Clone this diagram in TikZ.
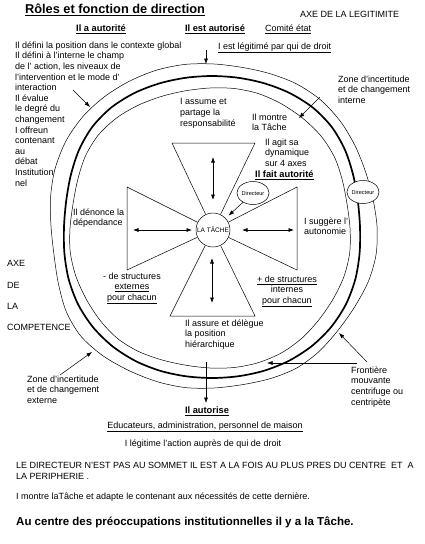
\documentclass[tikz,border=0pt]{standalone}
\usepackage{fontspec}
\setmainfont{Liberation Sans}
\usetikzlibrary{arrows.meta, shapes.geometric}

\begin{document}
\begin{tikzpicture}[x=1pt, y=-1pt,
  txt/.style={font=\fontsize{9}{10.6}\selectfont, align=left, inner sep=0pt, anchor=north west},
  ctxt/.style={font=\fontsize{9}{10.6}\selectfont, align=center, inner sep=0pt, anchor=north},
  line/.style={font=\fontsize{9}{10}\selectfont, inner sep=0pt},
  head/.style={font=\bfseries\fontsize{9.3}{11}\selectfont, inner sep=0pt},
  tachenode/.style={circle, draw, fill=white, line width=0.5pt, inner sep=0pt,
    minimum size=34pt, font=\fontsize{6.5}{7}\selectfont},
  dirnode/.style={ellipse, draw, fill=white, line width=0.5pt, inner sep=0pt,
    minimum width=29pt, minimum height=23pt, font=\fontsize{5.6}{6}\selectfont},
  ringthin/.style={line width=0.5pt},
  ringthick/.style={line width=1.7pt},
  tri/.style={line width=0.5pt},
  arr/.style={-{Latex[length=5.5pt,width=4pt]}, line width=0.5pt},
  dbl/.style={{Latex[length=5.5pt,width=4pt]}-{Latex[length=5.5pt,width=4pt]}, line width=0.6pt}]

  \fill[white] (0,0) rectangle (425,544);
  \useasboundingbox (0,0) rectangle (425,544);

  % Rings: outer frontier, thick boundary, inner frontier
  \draw[ringthin] plot[smooth cycle, samples=36, domain=0:350]
    ({214+(163+5*sin(2*\x)*sin(2*\x)-6*cos(\x)*sin(2*\x)*sin(2*\x)+2*sin(6*\x))*cos(\x)},
     {226+(162+5*sin(2*\x)*sin(2*\x)-6*cos(\x)*sin(2*\x)*sin(2*\x)+1.5*cos(7*\x))*sin(\x)});
  \draw[ringthick] plot[smooth cycle, samples=36, domain=0:350]
    ({212+(148+8*sin(2*\x)*sin(2*\x)+1.2*sin(5*\x))*cos(\x)},
     {227+(150+7*sin(2*\x)*sin(2*\x)+1*cos(4*\x))*sin(\x)});
  \draw[ringthin] plot[smooth cycle, samples=36, domain=0:350]
    ({210+(140+4*sin(2*\x)*sin(2*\x)+1.5*sin(7*\x))*cos(\x)},
     {228+(140+4*sin(2*\x)*sin(2*\x)+1.5*cos(5*\x))*sin(\x)});

  % Centre
  \node[tachenode] (tache) at (213,230) {LA TÂCHE};

  % Four triangles
  \draw[tri] (tache) -- (172,143) -- (255,143) -- (tache);
  \draw[tri] (tache) -- (127,187) -- (127,270) -- (tache);
  \draw[tri] (tache) -- (297,187) -- (297,270) -- (tache);
  \draw[tri] (tache) -- (170,316) -- (255,316) -- (tache);

  % Double arrows in the triangles
  \coordinate (upA) at (213,157);  \coordinate (upB) at (213,200);
  \coordinate (dnA) at (212,258);  \coordinate (dnB) at (212,303);
  \coordinate (lfA) at (133,230);  \coordinate (lfB) at (192,230);
  \coordinate (rtA) at (242,230);  \coordinate (rtB) at (294,230);
  \draw[dbl] (upA) -- (upB);
  \draw[dbl] (dnA) -- (dnB);
  \draw[dbl] (lfA) -- (lfB);
  \draw[dbl] (rtA) -- (rtB);

  % Directeur nodes
  \node[dirnode] (dirA) at (363,192) {Directeur};
  \node[dirnode] (dirB) at (253,193) {Directeur};
  \draw[arr, shorten >=4pt] (dirB) -- (tache);

  % Title and top labels
  \node[font=\bfseries\fontsize{12.8}{14}\selectfont, inner sep=0pt] (title) at (115,10)
    {\underline{Rôles et fonction de direction}};
  \node[line, anchor=west] (axeleg) at (300,14) {AXE DE LA LEGITIMITE};
  \node[head] (autorite) at (101,29) {\underline{Il a autorité}};
  \node[head] (autorise) at (215,29) {\underline{Il est autorisé}};
  \node[line, anchor=west] (comite) at (265,29) {\underline{Comité état}};
  \node[line, anchor=west] (legitime) at (218,48) {\underline{I est légitimé par qui de droit}};

  % Left column
  \node[txt] (lefttxt) at (15,41.5)
    {Il défini la position dans le contexte global\\
     Il défini à l'interne le  champ\\
     de l' action, les niveaux de\\
     l'intervention  et le mode d'\\
     interaction\\
     Il évalue\\
     le degré du\\
     changement\\
     I offreun\\
     contenant\\
     au\\
     débat\\
     Institution\\
     nel};

  % Texts inside the rings
  \node[txt] (assume) at (180,98.5) {I assume et\\partage la\\responsabilité};
  \node[txt] (montre) at (252,113.5) {Il montre\\la Tâche};
  \node[txt] (agit) at (265,138.5) {Il agit sa\\dynamique\\sur 4 axes};
  \node[head, anchor=west] (fait) at (255,175) {\underline{Il fait autorité}};
  \node[txt] (denonce) at (73,208.5) {Il dénonce la\\dépendance};
  \node[txt] (suggere) at (304,217.5) {I suggère l'\\autonomie};
  \node[ctxt] (moins) at (132,272.5) {- de structures\\\underline{externes}\\\underline{pour chacun}};
  \node[ctxt] (plus) at (287,275.5) {\underline{+ de structures}\\internes\\\underline{pour chacun}};
  \node[txt] (assure) at (185,319.5) {Il assure et délègue\\la position\\hiérarchique};

  % Competence axis
  \node[line, anchor=west] (axe1) at (7,263) {AXE};
  \node[line, anchor=west] (axe2) at (7,285) {DE};
  \node[line, anchor=west] (axe3) at (7,306) {LA};
  \node[line, anchor=west] (axe4) at (7,327) {COMPETENCE};

  % Zones and frontier
  \node[txt] (zoneint) at (338,75.5) {Zone d'incertitude\\et de changement\\interne};
  \node[txt] (zoneext) at (27,375.5) {Zone d'incertitude\\et de changement\\externe};
  \node[txt] (frontiere) at (351,366.5) {Frontière\\mouvante\\centrifuge ou\\centripète};

  % Pointer arrows
  \coordinate (evalA) at (73,90);   \coordinate (evalB) at (90,107);
  \coordinate (topA) at (206,50);   \coordinate (topB) at (206,64);
  \coordinate (intA) at (320,97);   \coordinate (intB) at (299,118);
  \coordinate (extA) at (60,375);   \coordinate (extB) at (92,352);
  \coordinate (frA) at (367,362);   \coordinate (frB) at (339,333);
  \coordinate (frC) at (357,363);   \coordinate (frD) at (267,363);
  \coordinate (botA) at (206,362);  \coordinate (botB) at (206,403);
  \draw[arr] (evalA) -- (evalB);
  \draw[arr] (topA) -- (topB);
  \draw[arr] (intA) -- (intB);
  \draw[arr] (extA) -- (extB);
  \draw[arr] (frA) -- (frB);
  \draw[arr] (frC) -- (frD);
  \draw[arr] (botA) -- (botB);

  % Bottom labels
  \node[head] (autorise2) at (207,411) {\underline{Il autorise}};
  \node[line] (educ) at (205,427) {\underline{Educateurs, administration, personnel de maison}};
  \node[line] (legit2) at (203,444) {I légitime l'action auprès de qui de droit};
  \node[txt] (directeur) at (16,462.5)
    {LE DIRECTEUR N'EST PAS AU SOMMET IL EST A LA FOIS AU PLUS PRES DU CENTRE \ ET \ A\\
     LA PERIPHERIE .};
  \node[line, anchor=west] (montre2) at (16,497)
    {I montre laTâche et adapte le contenant aux nécessités de  cette dernière.};
  \node[font=\bfseries\fontsize{11.5}{13}\selectfont, inner sep=0pt, anchor=west] (centre) at (16,522)
    {Au centre des préoccupations institutionnelles il y a la Tâche.};
\end{tikzpicture}
\end{document}
